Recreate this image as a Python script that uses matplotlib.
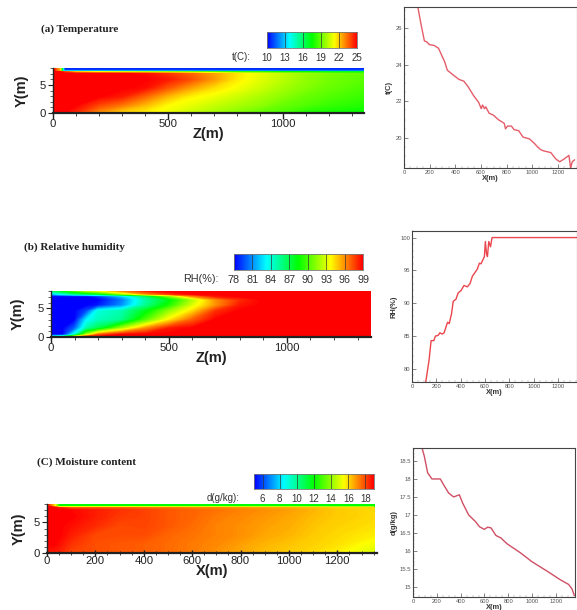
import numpy as np
import matplotlib
matplotlib.use('Agg')
import matplotlib.pyplot as plt
from matplotlib.colors import LinearSegmentedColormap

W, H = 577, 610

# contour fields, rows go from y=0 upwards
t_x = [0, 30, 50, 100, 200, 300, 400, 500, 600, 700, 800, 900, 1000, 1100, 1200, 1352]
t_y = [0, 0.3, 1.5, 3, 4.5, 6, 7, 7.3, 7.5, 8]
t_field = [
    [25, 25, 24, 21, 18, 18, 18, 18, 18, 18, 18, 17.5, 17.5, 17.5, 17.5, 17.5],
    [25, 25, 25, 24.5, 23, 22, 21.5, 21, 20.5, 20, 19.5, 19, 18.6, 18, 17.8, 17.6],
    [25, 25, 25, 25, 24, 23.3, 22.3, 21.3, 20.9, 20.4, 20, 19.6, 19, 18.7, 18.3, 18],
    [25, 25, 25, 25, 25, 24.6, 23.5, 22.3, 21.4, 21, 20.5, 20, 19.5, 19, 18.7, 18.3],
    [25, 25, 25, 25, 25, 25, 24.8, 23.7, 22.6, 21.7, 21.1, 20.5, 19.9, 19.4, 19, 18.6],
    [25, 25, 25, 25, 25, 25, 25, 24.6, 23.8, 22.7, 21.5, 20.8, 20.2, 19.6, 19.2, 18.8],
    [25, 25, 25, 25, 25, 25, 24.8, 24.2, 23.5, 22.6, 21.6, 20.9, 20.3, 19.7, 19.3, 18.9],
    [25, 25, 24, 22, 21, 20.5, 20, 19.5, 19, 18.5, 18, 18, 17.5, 17.5, 17, 17],
    [25, 22, 11, 11, 11, 11, 11, 11, 11, 11, 11, 11, 11, 11, 11, 11],
    [25, 22, 10.5, 10.5, 10.5, 10.5, 10.5, 10.5, 10.5, 10.5, 10.5, 10.5, 10.5, 10.5, 10.5, 10.5],
]

rh_x = [0, 50, 100, 150, 200, 300, 400, 500, 600, 700, 800, 900, 1000, 1357]
rh_y = [0, 0.4, 1.5, 3, 4.5, 5.5, 6.5, 7.1, 7.5, 8]
rh_field = [
    [85, 88, 96, 99, 99, 99, 99, 99, 99, 99, 99, 99, 99, 99],
    [78, 78, 84, 92, 97, 99, 99, 99, 99, 99, 99, 99, 99, 99],
    [78, 78, 80, 85, 87, 92, 96, 98.5, 99, 99, 99, 99, 99, 99],
    [78, 78, 78, 83, 84.5, 85.5, 90, 94, 97, 99, 99, 99, 99, 99],
    [78, 78, 78, 79.5, 84, 85, 88, 91.5, 94.5, 98, 99, 99, 99, 99],
    [78, 78, 78, 78, 78.5, 81, 85.5, 89, 93, 96, 98.5, 99, 99, 99],
    [78, 78, 78, 78, 78, 80.5, 85, 88, 92, 96, 98, 99, 99, 99],
    [78, 78, 78, 78, 79, 82, 86, 91, 96, 98.5, 99, 99, 99, 99],
    [82, 84, 86, 87, 88, 92, 96, 98, 99, 99, 99, 99, 99, 99],
    [86, 88, 90, 92, 93, 96, 98, 99, 99, 99, 99, 99, 99, 99],
]

d_x = [0, 30, 50, 100, 200, 300, 400, 500, 600, 700, 800, 900, 1000, 1100, 1200, 1352]
d_y = [0, 0.4, 1.5, 3, 4.5, 6, 7, 7.45, 7.6, 8]
d_field = [
    [18.5, 18.5, 18.4, 18, 17.8, 17.8, 17.6, 17.5, 17.3, 17, 16.7, 16.4, 16.2, 16, 15.7, 15],
    [18.7, 18.7, 18.6, 18.1, 17.9, 17.8, 17.7, 17.5, 17.3, 17, 16.7, 16.4, 16.2, 16, 15.7, 15],
    [19, 19, 18.8, 18.3, 17.9, 17.8, 17.7, 17.5, 17.3, 17.1, 16.8, 16.5, 16.3, 16.1, 15.9, 15.3],
    [19, 19, 19, 18.6, 18, 17.95, 17.95, 17.6, 17.4, 17.2, 17, 16.7, 16.5, 16.2, 16, 15.7],
    [19, 19, 19, 18.8, 18.4, 18, 18.05, 17.8, 17.5, 17.2, 17, 16.8, 16.6, 16.3, 16.1, 15.9],
    [19, 19, 19, 19, 18.6, 18.2, 18.1, 17.8, 17.6, 17.3, 17.1, 16.9, 16.7, 16.4, 16.2, 16],
    [19, 19, 19, 18.9, 18.6, 18.3, 18.1, 17.8, 17.6, 17.4, 17.2, 17, 16.8, 16.5, 16.2, 16],
    [19, 19, 18.5, 17.5, 17.5, 17.5, 17.3, 17.2, 17, 17, 16.8, 16.7, 16.5, 16.3, 16, 16],
    [19, 16, 12, 12, 12, 12, 12, 12, 12, 12, 12, 12, 12, 12, 12, 12],
    [19, 16, 12, 12, 12, 12, 12, 12, 12, 12, 12, 12, 12, 12, 12, 12],
]

# profile lines next to each contour
t_line_x = [108, 133, 159, 177, 197, 236, 269, 295, 318, 338, 382, 428, 467, 500, 544, 582, 603, 613, 628, 638, 664, 697, 736, 782, 792, 808, 838, 859, 895, 928, 979, 1018, 1044, 1069, 1087, 1146, 1185, 1215, 1249, 1287, 1300, 1313, 1330]
t_line_y = [27.15, 26.2, 25.3, 25.25, 25.1, 25.05, 24.9, 24.5, 24.15, 23.7, 23.45, 23.2, 23.1, 22.8, 22.3, 21.95, 21.6, 21.8, 21.6, 21.7, 21.35, 21.25, 21, 20.8, 20.5, 20.65, 20.65, 20.45, 20.4, 20.05, 19.95, 19.7, 19.5, 19.35, 19.3, 19.2, 18.85, 18.7, 18.85, 19.05, 18.36, 18.7, 18.8]

rh_line_x = [113, 140, 157, 179, 193, 215, 229, 248, 264, 292, 306, 325, 339, 361, 380, 402, 427, 455, 477, 496, 537, 554, 567, 595, 603, 612, 620, 631, 645, 658, 1356]
rh_line_y = [78, 81.3, 84.3, 84.3, 85, 85.1, 85.5, 85.3, 85.5, 87.1, 86.9, 88.4, 90.3, 90.6, 91.6, 91.9, 92.7, 92.5, 93, 94.1, 95.2, 96.1, 96, 97.1, 99.4, 97.6, 97.1, 99.4, 98.6, 100, 100]

d_line_x = [76, 95, 123, 159, 229, 257, 299, 341, 389, 417, 467, 523, 559, 599, 627, 655, 696, 738, 789, 901, 999, 1125, 1236, 1306, 1334, 1354]
d_line_y = [18.86, 18.63, 18.17, 18, 18, 17.84, 17.61, 17.5, 17.56, 17.33, 17, 16.82, 16.67, 16.6, 16.66, 16.64, 16.43, 16.36, 16.2, 15.95, 15.7, 15.44, 15.2, 15.07, 14.95, 14.77]

t_cbar_ticks = [10, 13, 16, 19, 22, 25]
rh_cbar_ticks = [78, 81, 84, 87, 90, 93, 96, 99]
d_cbar_ticks = [6, 8, 10, 12, 14, 16, 18]

plt.rcParams['font.family'] = ['Liberation Sans', 'DejaVu Sans']
tec = LinearSegmentedColormap.from_list('tec', ['#0000ff', '#00ffff', '#00ff00', '#ffff00', '#ff0000'])


#axes from pixel box, left/top/right/bottom as in the picture
def pxAxes(fig, l, t, r, b):
    return fig.add_axes([l/W, 1-b/H, (r-l)/W, (b-t)/H])


def plotContour(fig, box, xs, ys, field, vmin, vmax, xlim, xticks, xminor, xlabel, tickdir, ylabelpad):
    ax = pxAxes(fig, *box)
    levels = np.linspace(vmin, vmax, 400)
    ax.contourf(xs, ys, field, levels=levels, cmap=tec, extend='both')
    ax.set_xlim(0, xlim)
    ax.set_ylim(0, 8)
    ax.spines['top'].set_visible(False)
    ax.spines['right'].set_visible(False)
    ax.spines['left'].set_linewidth(1.0)
    ax.spines['bottom'].set_linewidth(1.6)
    ax.spines['left'].set_color('#222222')
    ax.spines['bottom'].set_color('#222222')
    ax.set_xticks(xticks)
    ax.set_xticks(xminor, minor=True)
    ax.set_yticks([0, 5])
    ax.set_yticks(range(0, 9), minor=True)
    ax.tick_params(axis='x', which='major', direction=tickdir, length=4, width=1.0, labelsize=8.2, pad=0, colors='#222222', zorder=5)
    ax.tick_params(axis='x', which='minor', direction=tickdir, length=2.5, width=0.6, colors='#222222')
    ax.tick_params(axis='y', which='major', length=3.5, width=0.8, labelsize=8.2, pad=1.5, colors='#222222')
    ax.tick_params(axis='y', which='minor', length=2, width=0.5, colors='#222222')
    ax.set_xlabel(xlabel, fontsize=10.5, fontweight='bold', labelpad=-1, color='#222222')
    ax.set_ylabel('Y(m)', fontsize=10.5, fontweight='bold', labelpad=ylabelpad, color='#222222')
    return ax


def plotCbar(fig, box, vmin, vmax, ticks, label, labelX, labelY, fontsize):
    ax = pxAxes(fig, *box)
    grad = np.linspace(vmin, vmax, 256).reshape(1, -1)
    ax.imshow(grad, cmap=tec, aspect='auto', extent=[vmin, vmax, 0, 1], vmin=vmin, vmax=vmax)
    for v in ticks:
        ax.axvline(v, color='#333333', lw=0.6, alpha=0.8)
    ax.set_yticks([])
    ax.set_xticks(ticks)
    ax.tick_params(axis='x', length=0, labelsize=fontsize, pad=3.5, colors='#333333')
    for s in ax.spines.values():
        s.set_color('#777777')
        s.set_linewidth(0.6)
    fig.text(labelX/W, 1-labelY/H, label, fontsize=fontsize, color='#333333', ha='left', va='center')
    return ax


def plotLine(fig, box, xs, ys, xlim, ylim, yticks, yminor, ylabel, color):
    ax = pxAxes(fig, *box)
    ax.plot(xs, ys, color=color, lw=1.0, alpha=0.85)
    ax.set_xlim(0, xlim)
    ax.set_ylim(*ylim)
    ax.set_xticks(range(0, 1400, 200))
    ax.set_xticks(range(0, 1400, 50), minor=True)
    ax.set_yticks(yticks)
    ax.set_yticklabels([('%g' % v) for v in yticks])
    ax.set_yticks(yminor, minor=True)
    ax.tick_params(which='major', direction='in', length=3, width=0.5, labelsize=4.2, pad=1.5, colors='#555555')
    ax.tick_params(which='minor', direction='in', length=1.5, width=0.3, colors='#888888')
    for s in ax.spines.values():
        s.set_color('#444444')
        s.set_linewidth(0.8)
    ax.set_xlabel('X(m)', fontsize=5.4, fontweight='bold', labelpad=0, color='#333333')
    ax.set_ylabel(ylabel, fontsize=5.4, fontweight='bold', labelpad=1.5, color='#333333')
    return ax


fig = plt.figure(figsize=(W/100, H/100), dpi=100)

plotContour(fig, (53, 68, 364, 113), t_x, t_y, t_field, 10, 25, 1352, [0, 500, 1000], range(0, 1400, 100), 'Z(m)', 'out', 8)
plotContour(fig, (51, 291, 371, 337), rh_x, rh_y, rh_field, 78, 99, 1357, [0, 500, 1000], range(0, 1400, 100), 'Z(m)', 'out', 9)
plotContour(fig, (47, 504, 377, 553), d_x, d_y, d_field, 5, 19, 1364, range(0, 1400, 200), range(0, 1400, 50), 'X(m)', 'inout', 6)

plotCbar(fig, (267, 32, 357, 48), 10, 25, t_cbar_ticks, 't(C):', 232, 57, 7)
plotCbar(fig, (234, 254, 363, 270), 78, 99, rh_cbar_ticks, 'RH(%):', 183, 279, 7.8)
plotCbar(fig, (254, 474, 374, 489), 5, 19, d_cbar_ticks, 'd(g/kg):', 207, 498, 7)

plotLine(fig, (404, 7, 577, 168), t_line_x, t_line_y, 1330, (18.36, 27.15), [20, 22, 24, 26], np.arange(18.5, 27.1, 0.5), 't(C)', '#e0404f')
plotLine(fig, (412, 231, 577, 382), rh_line_x, rh_line_y, 1356, (78, 101), [80, 85, 90, 95, 100], range(78, 102), 'RH(%)', '#e8262e')
plotLine(fig, (413, 448, 575, 597), d_line_x, d_line_y, 1360, (14.72, 18.86), [15, 15.5, 16, 16.5, 17, 17.5, 18, 18.5], np.arange(14.8, 18.9, 0.1), 'd(g/kg)', '#c8304a')

for label, x, y in [('(a) Temperature', 41, 29), ('(b) Relative humidity', 24, 247), ('(C) Moisture content', 37, 462)]:
    fig.text(x/W, 1-y/H, label, family=['Liberation Serif', 'DejaVu Serif'], fontsize=8, fontweight='bold', color='#222222', ha='left', va='center')

fig.savefig('out.png', dpi=100)
